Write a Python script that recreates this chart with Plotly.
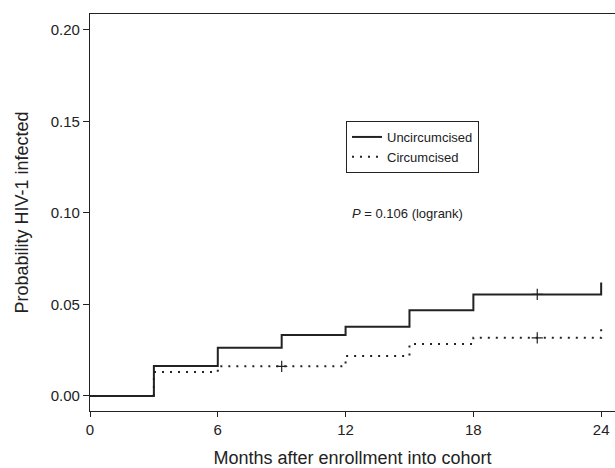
import plotly.graph_objects as go

# Kaplan-Meier step data (months, cumulative probability HIV-1 infected)
uncirc_months = [0, 3, 6, 9, 12, 15, 18, 24]
uncirc_prob = [0.0, 0.0164, 0.0264, 0.0333, 0.0378, 0.0469, 0.0555, 0.062]
circ_months = [0, 3, 6, 12, 15, 18, 24]
circ_prob = [0.0, 0.0131, 0.0162, 0.0218, 0.0284, 0.0318, 0.0387]

# censoring marks
uncirc_cens_months = [21]
uncirc_cens_prob = [0.0555]
circ_cens_months = [9, 21]
circ_cens_prob = [0.0162, 0.0318]

x_ticks = [0, 6, 12, 18, 24]
y_ticks = [0.00, 0.05, 0.10, 0.15, 0.20]
y_tick_labels = ["0.00", "0.05", "0.10", "0.15", "0.20"]

font_family = "Liberation Sans, Arial, Helvetica, sans-serif"

fig = go.Figure()
fig.add_trace(go.Scatter(
    x=uncirc_months, y=uncirc_prob, mode="lines", line_shape="hv",
    line=dict(color="#222222", width=2), name="Uncircumcised"))
fig.add_trace(go.Scatter(
    x=circ_months, y=circ_prob, mode="lines", line_shape="hv",
    line=dict(color="#222222", width=2, dash="2px,6px"), name="Circumcised"))
fig.add_trace(go.Scatter(
    x=uncirc_cens_months + circ_cens_months,
    y=uncirc_cens_prob + circ_cens_prob, mode="markers",
    marker=dict(symbol="cross-thin", size=8, line=dict(color="#222222", width=1.2)),
    showlegend=False, hoverinfo="skip"))

fig.add_annotation(
    x=14.93, y=0.0995, xref="x", yref="y", showarrow=False,
    text="<i>P</i> = 0.106 (logrank)", font=dict(size=13, color="#222222", family=font_family))

fig.update_layout(
    width=615, height=468,
    margin=dict(l=90, r=0, t=14, b=57),
    paper_bgcolor="white", plot_bgcolor="white",
    font=dict(family=font_family, color="#222222", size=15),
    legend=dict(
        x=0.4876, y=0.7305, xanchor="left", yanchor="top",
        bgcolor="white", bordercolor="#222222", borderwidth=1,
        font=dict(size=13), tracegroupgap=0, itemwidth=30,
    ),
    xaxis=dict(
        range=[0, 24.65], tickvals=x_ticks, ticks="outside", ticklen=5,
        tickwidth=1, tickcolor="#222222", showline=True, linecolor="#222222",
        linewidth=1.2, mirror=True, showgrid=False, zeroline=False,
        automargin=False,
        title=dict(text="Months after enrollment into cohort", font=dict(size=18), standoff=17),
        tickfont=dict(size=15),
    ),
    yaxis=dict(
        range=[-0.0082, 0.2087], tickvals=y_ticks, ticktext=y_tick_labels,
        ticks="outside", ticklen=6, tickwidth=1, tickcolor="#222222",
        showline=True, linecolor="#222222", linewidth=1.2, mirror=False,
        showgrid=False, zeroline=False, automargin=False,
        title=dict(text="Probability HIV-1 infected", font=dict(size=18), standoff=17),
        tickfont=dict(size=15),
    ),
)

fig.write_html("out.html", config={"displayModeBar": False},
               post_script="document.body.style.margin='0';document.body.style.padding='0';")
